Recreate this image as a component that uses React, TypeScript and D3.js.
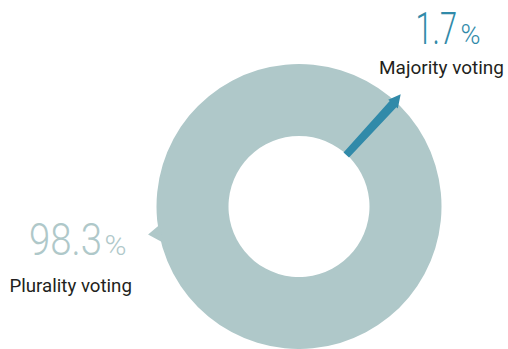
import React, { useLayoutEffect, useRef, useState } from "react";
import * as d3 from "d3";

const categories = ["Majority voting", "Plurality voting"];
const values = [1.7, 98.3];
const valueLabels = ["1.7", "98.3"];
const colors = ["#318AA9", "#AFC8C9"];

const W = 508;
const H = 349;
const cx = 299;
const cy = 206.5;
const rIn = 70.5;
const rOut = 142.5;
const deg = Math.PI / 180;
const font = "Roboto, 'Noto Sans', sans-serif";

function pt(r: number, a: number): [number, number] {
  return [cx + r * Math.sin(a), cy - r * Math.cos(a)];
}
function off(r: number, a: number, w: number): [number, number] {
  const [x, y] = pt(r, a);
  return [x + w * Math.cos(a), y + w * Math.sin(a)];
}

function FitText(props: {
  x: number;
  y: number;
  width: number;
  size: number;
  weight?: number;
  fill: string;
  children: string;
}) {
  const ref = useRef<SVGTextElement>(null);
  const [sx, setSx] = useState(1);
  useLayoutEffect(() => {
    if (ref.current) {
      const len = ref.current.getComputedTextLength();
      if (len > 0) setSx(props.width / len);
    }
  }, [props.width, props.children]);
  return (
    <text
      ref={ref}
      transform={`translate(${props.x},${props.y}) scale(${sx},1)`}
      fill={props.fill}
      fontFamily={font}
      fontWeight={props.weight ?? 400}
      fontSize={props.size}
    >
      {props.children}
    </text>
  );
}

export default function App() {
  const start = 39.5 * deg;
  const pie = d3
    .pie<number>()
    .sort(null)
    .startAngle(start)
    .endAngle(start + 2 * Math.PI);
  const arcs = pie(values);
  const arc = d3.arc<any>().innerRadius(rIn).outerRadius(rOut);

  const maj = arcs[0];
  const plu = arcs[1];
  const mid = (maj.startAngle + maj.endAngle) / 2;
  const line = d3.line();
  const blue = line([
    pt(rIn - 0.5, maj.startAngle),
    off(139, mid, -4.5),
    off(139, mid, -6.5),
    off(151.5, mid - 0.4 * deg, 0),
    off(139, mid, 6.5),
    off(139, mid, 4.5),
    pt(rIn - 0.5, maj.endAngle),
  ]) + "Z";

  // grey ring drawn beneath the narrow majority pointer
  const greyRing = arc({ startAngle: plu.startAngle - (maj.endAngle - maj.startAngle), endAngle: plu.endAngle });

  const pa = 259.5 * deg;
  const greyPointer = line([
    pt(rOut - 2, 255 * deg),
    pt(153.5, pa),
    pt(rOut - 2, 262.5 * deg),
  ]) + "Z";

  const labelColor = "#231F20";

  return (
    <svg
      width={W}
      height={H}
      style={{ position: "absolute", left: 0, top: 0, background: "#fff" }}
    >
      <g transform={`translate(${cx},${cy})`}>
        <path d={greyRing || ""} fill={colors[1]} />
      </g>
      <path d={greyPointer} fill={colors[1]} />
      <path d={blue} fill={colors[0]} />

      <FitText x={415.5} y={43.5} width={41.5} size={44.5} weight={300} fill={colors[0]}>
        {valueLabels[0]}
      </FitText>
      <FitText x={460.5} y={43.5} width={20} size={28} weight={300} fill={colors[0]}>
        %
      </FitText>
      <FitText x={379} y={74} width={125} size={18.8} fill={labelColor}>
        {categories[0]}
      </FitText>

      <FitText x={29} y={255} width={73} size={44.5} weight={300} fill={colors[1]}>
        {valueLabels[1]}
      </FitText>
      <FitText x={104.5} y={255} width={22} size={28} weight={300} fill={colors[1]}>
        %
      </FitText>
      <FitText x={9.5} y={291.5} width={122.5} size={18.6} fill={labelColor}>
        {categories[1]}
      </FitText>
    </svg>
  );
}
